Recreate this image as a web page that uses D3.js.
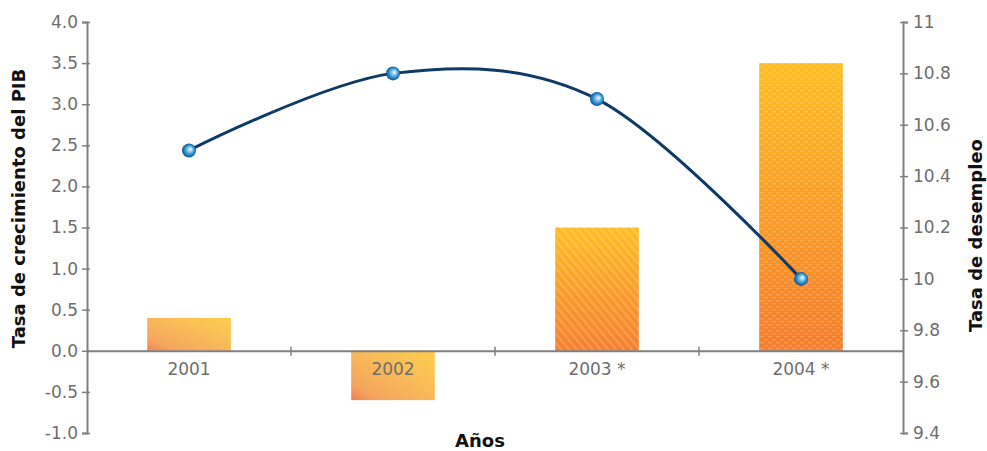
<!DOCTYPE html>
<html>
<head>
<meta charset="utf-8">
<script src="https://cdn.jsdelivr.net/npm/d3@7"></script>
<style>
  html, body { margin: 0; padding: 0; background: #fff; }
  svg { display: block; }
  .tick text { font-family: "DejaVu Sans", Verdana, sans-serif; font-size: 17px; fill: #6e6e6e; }
  .title { font-family: "DejaVu Sans", Verdana, sans-serif; font-size: 18px; font-weight: bold; fill: #111; }
</style>
</head>
<body>
<svg id="chart" width="987" height="451"></svg>
<script>
// Años y valores
const years = ["2001", "2002", "2003 *", "2004 *"];
const gdpGrowth = [0.4, -0.6, 1.5, 3.5];          // Tasa de crecimiento del PIB (barras)
const unemployment = [10.5, 10.8, 10.7, 10.0];    // Tasa de desempleo (línea)
const leftTicks = [-1.0, -0.5, 0.0, 0.5, 1.0, 1.5, 2.0, 2.5, 3.0, 3.5, 4.0];
const rightTicks = [9.4, 9.6, 9.8, 10, 10.2, 10.4, 10.6, 10.8, 11];

const svg = d3.select("#chart");
const plotLeft = 87, plotRight = 903, plotTop = 22, plotBottom = 433;

const x = d3.scaleBand().domain(years).range([plotLeft, plotRight]).paddingInner(0).paddingOuter(0);
const yL = d3.scaleLinear().domain([-1, 4]).range([plotBottom, plotTop]);
const yR = d3.scaleLinear().domain([9.4, 11]).range([plotBottom, plotTop]);

const defs = svg.append("defs");

// soft gradient for the first two bars
const g1 = defs.append("linearGradient").attr("id", "gSoft")
  .attr("x1", "0%").attr("y1", "100%").attr("x2", "100%").attr("y2", "0%");
g1.append("stop").attr("offset", "0%").attr("stop-color", "#f07f55");
g1.append("stop").attr("offset", "18%").attr("stop-color", "#f5a55e");
g1.append("stop").attr("offset", "60%").attr("stop-color", "#f9bd58");
g1.append("stop").attr("offset", "100%").attr("stop-color", "#fecd4c");

// vertical gradient for the textured bars
const g2 = defs.append("linearGradient").attr("id", "gBright")
  .attr("x1", "0%").attr("y1", "0%").attr("x2", "0%").attr("y2", "100%");
g2.append("stop").attr("offset", "0%").attr("stop-color", "#febd22");
g2.append("stop").attr("offset", "100%").attr("stop-color", "#f47e2e");

// diagonal stripes
const p1 = defs.append("pattern").attr("id", "pStripe").attr("patternUnits", "userSpaceOnUse")
  .attr("width", 6).attr("height", 6).attr("patternTransform", "rotate(-40)");
p1.append("rect").attr("width", 2.5).attr("height", 6).attr("fill", "rgba(255,255,255,0.16)");

// small brick texture
const p2 = defs.append("pattern").attr("id", "pBrick").attr("patternUnits", "userSpaceOnUse")
  .attr("width", 8).attr("height", 6);
p2.append("rect").attr("x", 0).attr("y", 0).attr("width", 4).attr("height", 1.5).attr("fill", "rgba(255,255,255,0.18)");
p2.append("rect").attr("x", 4).attr("y", 3).attr("width", 4).attr("height", 1.5).attr("fill", "rgba(255,255,255,0.18)");

// sphere marker gradient
const rg = defs.append("radialGradient").attr("id", "gBall")
  .attr("cx", "50%").attr("cy", "50%").attr("r", "55%").attr("fx", "62%").attr("fy", "40%");
rg.append("stop").attr("offset", "0%").attr("stop-color", "#ffffff");
rg.append("stop").attr("offset", "30%").attr("stop-color", "#8cc9ee");
rg.append("stop").attr("offset", "70%").attr("stop-color", "#1e7fc0");
rg.append("stop").attr("offset", "100%").attr("stop-color", "#0c4a7c");

// bars
const barW = x.bandwidth() * 0.41;
const fills = ["url(#gSoft)", "url(#gSoft)", "url(#gBright)", "url(#gBright)"];
const textures = [null, null, "url(#pStripe)", "url(#pBrick)"];
years.forEach((yr, i) => {
  const v = gdpGrowth[i];
  const bx = x(yr) + (x.bandwidth() - barW) / 2;
  const by = yL(Math.max(0, v));
  const bh = Math.abs(yL(v) - yL(0));
  svg.append("rect").attr("x", bx).attr("y", by).attr("width", barW).attr("height", bh).attr("fill", fills[i]);
  if (textures[i]) svg.append("rect").attr("x", bx).attr("y", by).attr("width", barW).attr("height", bh).attr("fill", textures[i]);
});

// left axis
const axL = svg.append("g").attr("transform", `translate(${plotLeft},0)`)
  .call(d3.axisLeft(yL).tickValues(leftTicks).tickFormat(d => d3.format(".1f")(d).replace("−", "-")).tickSize(5).tickPadding(4));
// right axis
const axR = svg.append("g").attr("transform", `translate(${plotRight},0)`)
  .call(d3.axisRight(yR).tickValues(rightTicks).tickFormat(d => String(d)).tickSize(5).tickPadding(5));
axL.selectAll(".tick line").attr("x1", 3);
axR.selectAll(".tick line").attr("x1", -3);
[axL, axR].forEach(a => {
  a.select(".domain").attr("stroke", "#808080").attr("stroke-width", 2);
  a.selectAll(".tick line").attr("stroke", "#808080").attr("stroke-width", 1.5);
});

// category axis at zero
const axX = svg.append("g").attr("transform", `translate(0,${yL(0)})`)
  .call(d3.axisBottom(x).tickSize(0).tickPadding(12));
axX.select(".domain").attr("stroke", "#808080").attr("stroke-width", 2);
// dividers between categories
years.slice(1).forEach(yr => {
  svg.append("line").attr("x1", x(yr)).attr("x2", x(yr))
    .attr("y1", yL(0) - 4).attr("y2", yL(0) + 5)
    .attr("stroke", "#808080").attr("stroke-width", 1.5);
});

// unemployment line
const pts = years.map((yr, i) => [x(yr) + x.bandwidth() / 2, yR(unemployment[i])]);
svg.append("path").attr("d", d3.line().curve(d3.curveCardinal.tension(0))(pts))
  .attr("fill", "none").attr("stroke", "#0e3a66").attr("stroke-width", 3);
svg.selectAll(".ball").data(pts).enter().append("circle")
  .attr("cx", d => d[0]).attr("cy", d => d[1]).attr("r", 7)
  .attr("fill", "url(#gBall)");

// titles
svg.append("text").attr("class", "title")
  .attr("transform", `translate(25,${(plotTop + plotBottom) / 2 - 19}) rotate(-90)`)
  .attr("text-anchor", "middle").text("Tasa de crecimiento del PIB");
svg.append("text").attr("class", "title")
  .attr("transform", `translate(982,${(plotTop + plotBottom) / 2 + 8}) rotate(-90)`)
  .attr("text-anchor", "middle").text("Tasa de desempleo");
svg.append("text").attr("class", "title")
  .attr("x", (plotLeft + plotRight) / 2 - 15).attr("y", 447)
  .attr("text-anchor", "middle").text("Años");
</script>
</body>
</html>
